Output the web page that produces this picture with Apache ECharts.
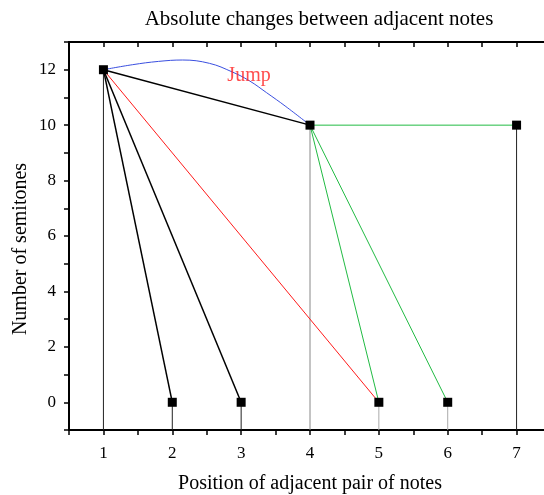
<!DOCTYPE html>
<html>
<head>
<meta charset="utf-8">
<script src="https://cdn.jsdelivr.net/npm/echarts@6/dist/echarts.min.js"></script>
<style>html,body{margin:0;padding:0;background:#fff;overflow:hidden}#c{width:551px;height:495px}</style>
</head>
<body>
<div id="c"></div>
<script>
// ---- data ----
const noteX = [1, 2, 3, 4, 5, 6, 7];
const noteY = [12, 0, 0, 10, 0, 0, 10];
// links between notes (index pairs)
const blackLinks = [[0, 1], [0, 2], [0, 3]];
const redLinks = [[0, 4]];
const greenLinks = [[3, 4], [3, 5], [3, 6]];
// blue "jump" curve points
const jumpCurveX = [1, 1.42, 1.8, 2.15, 2.54, 2.87, 3.12, 3.37, 3.65, 4];
const jumpCurveY = [12, 12.18, 12.3, 12.35, 12.23, 11.92, 11.6, 11.17, 10.67, 10];
const jumpLabel = { x: 2.8, y: 11.8, text: 'Jump' };
const xTicks = [1, 2, 3, 4, 5, 6, 7];
const yTicks = [0, 2, 4, 6, 8, 10, 12];

const FONT = '"Liberation Serif", "DejaVu Serif", serif';
const dropColors = ['#222', '#222', '#222', '#888', '#aaa', '#aaa', '#222'];

const series = [];
// vertical drop lines to the bottom axis
noteX.forEach((x, i) => {
  series.push({
    type: 'line', symbol: 'none', silent: true, z: 1,
    data: [[x, noteY[i]], [x, -1]],
    lineStyle: { color: dropColors[i], width: 1 }
  });
});
function addLinks(links, color, width) {
  links.forEach(([a, b]) => {
    series.push({
      type: 'line', symbol: 'none', silent: true, z: 2,
      data: [[noteX[a], noteY[a]], [noteX[b], noteY[b]]],
      lineStyle: { color: color, width: width }
    });
  });
}
addLinks(blackLinks, '#000', 1.5);
addLinks(redLinks, '#ff1a1a', 1);
addLinks(greenLinks, '#22bb44', 1);
series.push({
  type: 'line', symbol: 'none', smooth: 0.4, z: 2,
  data: jumpCurveX.map((x, i) => [x, jumpCurveY[i]]),
  lineStyle: { color: '#3a4fe0', width: 1 }
});
series.push({
  type: 'scatter', symbol: 'rect', symbolSize: 9, z: 5,
  data: noteX.map((x, i) => [x, noteY[i]]),
  itemStyle: { color: '#000', opacity: 1 }
});
series.push({
  type: 'scatter', symbolSize: 0, z: 6,
  data: [[jumpLabel.x, jumpLabel.y]],
  label: { show: true, position: 'right', distance: 0, formatter: jumpLabel.text,
    color: '#ff2020', fontFamily: FONT, fontSize: 20 }
});

const chart = echarts.init(document.getElementById('c'), null, { renderer: 'canvas' });
chart.setOption({
  animation: false,
  backgroundColor: '#fff',
  title: {
    text: 'Absolute changes between adjacent notes', left: 314, top: 4, textAlign: 'center',
    textStyle: { fontFamily: FONT, fontSize: 21, fontWeight: 'normal', color: '#000' }
  },
  grid: { left: 69, top: 42, right: 0, bottom: 65, containLabel: false, outerBoundsMode: 'none' },
  xAxis: [{
    type: 'value', min: 0.5, max: 7.5, interval: 0.5, position: 'bottom',
    name: 'Position of adjacent pair of notes', nameLocation: 'middle', nameGap: 44,
    nameTextStyle: { fontFamily: FONT, fontSize: 20, color: '#000' },
    axisLine: { show: true, onZero: false, lineStyle: { color: '#000', width: 2 } },
    axisTick: { show: true, inside: false, length: 5, lineStyle: { color: '#000', width: 1.5 } },
    axisLabel: { fontFamily: FONT, fontSize: 17, color: '#000', margin: 15,
      formatter: v => xTicks.includes(v) ? String(v) : '' },
    splitLine: { show: false }
  }, {
    type: 'value', min: 0.5, max: 7.5, interval: 0.5, position: 'top',
    axisLine: { show: true, onZero: false, lineStyle: { color: '#000', width: 2 } },
    axisTick: { show: true, inside: true, length: 5, lineStyle: { color: '#000', width: 1.5 } },
    axisLabel: { show: false }, splitLine: { show: false }
  }],
  yAxis: [{
    type: 'value', min: -1, max: 13, interval: 1,
    axisLine: { show: true, onZero: false, lineStyle: { color: '#000', width: 2 } },
    axisTick: { show: true, inside: false, length: 5, lineStyle: { color: '#000', width: 1.5 } },
    axisLabel: { fontFamily: FONT, fontSize: 17, color: '#000', margin: 13,
      formatter: v => yTicks.includes(v) ? String(v) : '' },
    splitLine: { show: false }
  }],
  graphic: [{
    type: 'text', x: 11, y: 249, rotation: Math.PI / 2,
    style: { text: 'Number of semitones', fontFamily: FONT, fontSize: 20, fill: '#000',
      textAlign: 'center', textVerticalAlign: 'top' }
  }],
  series: series
});
</script>
</body>
</html>
